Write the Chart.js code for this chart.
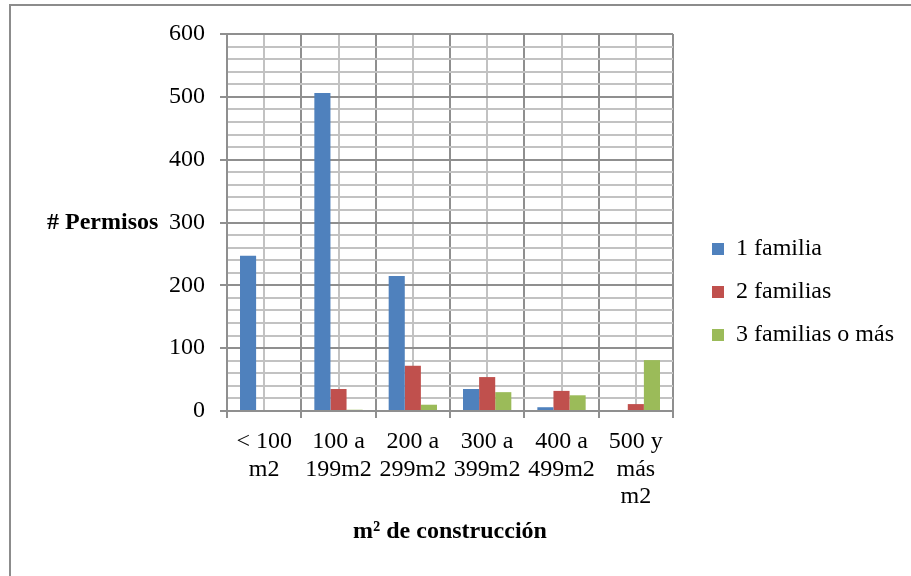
<!DOCTYPE html>
<html>
<head>
<meta charset="utf-8">
<script src="https://cdn.jsdelivr.net/npm/chart.js@4.4.1/dist/chart.umd.min.js"></script>
<style>
  html, body { margin: 0; padding: 0; background: #fff; overflow: hidden; }
  #frame { position: absolute; left: 9px; top: 4px; width: 1000px; height: 700px; border: 2px solid #8c8c8c; }
  #wrap { position: absolute; left: 0; top: 0; width: 911px; height: 576px; }
</style>
</head>
<body>
<div id="frame"></div>
<div id="wrap"><canvas id="chart" width="911" height="576"></canvas></div>
<script>
// categories and series
const categories = [['< 100', 'm2'], ['100 a', '199m2'], ['200 a', '299m2'], ['300 a', '399m2'], ['400 a', '499m2'], ['500 y', 'más', 'm2']];
const unaFamilia = [247, 506, 215, 35, 6, 0];
const dosFamilias = [0, 35, 72, 54, 32, 11];
const tresFamilias = [0, 2, 10, 30, 25, 81];

const serif = "'Liberation Serif', 'Times New Roman', serif";
const majorGrid = '#8f8f8f';
const minorGrid = '#c2c2c2';

// draws the horizontal "# Permisos" label left of the y axis
const yTitlePlugin = {
    id: 'yTitle',
    afterDraw(chart) {
        const ctx = chart.ctx;
        const y = chart.scales.y.getPixelForValue(300);
        ctx.save();
        ctx.font = 'bold 24px ' + serif;
        ctx.fillStyle = '#000';
        ctx.textAlign = 'left';
        ctx.textBaseline = 'middle';
        ctx.fillText('# Permisos', 47, y);
        ctx.restore();
    }
};

// legend box gets a fixed width so the plot stops short of it,
// then the items are nudged right / up to sit where the original has them
const legendWidth = 228;
const legendShiftX = 20;
const legendShiftY = -8;
const legendPlacePlugin = {
    id: 'legendPlace',
    beforeLayout(chart) {
        const legend = chart.legend;
        if (legend && !legend._fixedWidth) {
            const fit = legend.fit;
            legend.fit = function () {
                fit.call(this);
                this.width = legendWidth;
            };
            legend._fixedWidth = true;
        }
    },
    afterLayout(chart) {
        const legend = chart.legend;
        legend.left += legendShiftX;
        legend.right += legendShiftX;
        legend.top += legendShiftY;
        legend.bottom += legendShiftY;
    }
};

const ctx = document.getElementById('chart').getContext('2d');
const chart = new Chart(ctx, {
    type: 'bar',
    data: {
        labels: categories,
        datasets: [
            { label: '1 familia', data: unaFamilia, backgroundColor: '#4F81BD' },
            { label: '2 familias', data: dosFamilias, backgroundColor: '#C0504D' },
            { label: '3 familias o más', data: tresFamilias, backgroundColor: '#9BBB59' }
        ]
    },
    options: {
        responsive: false,
        animation: false,
        devicePixelRatio: 1,
        categoryPercentage: 0.65,
        barPercentage: 1.0,
        layout: { padding: { left: 10, right: 10, top: 34, bottom: 10 } },
        scales: {
            x: {
                grid: {
                    offset: true,
                    color: majorGrid,
                    lineWidth: 2,
                    tickLength: 7,
                    tickColor: majorGrid
                },
                border: { color: majorGrid, width: 2 },
                ticks: {
                    color: '#000',
                    font: { family: serif, size: 24, lineHeight: 1.15 },
                    padding: 10,
                    maxRotation: 0,
                    autoSkip: false
                },
                title: {
                    display: true,
                    text: 'm² de construcción',
                    color: '#000',
                    font: { family: serif, size: 24, weight: 'bold' },
                    padding: { top: 0, bottom: 20 }
                },
                afterFit: scale => { scale.height = 155; }
            },
            x2: {
                type: 'category',
                position: 'top',
                offset: true,
                grid: { offset: false, color: minorGrid, lineWidth: 2, drawTicks: false },
                border: { display: false },
                ticks: { display: false },
                afterFit: scale => { scale.height = 0; }
            },
            y: {
                min: 0,
                max: 600,
                grid: {
                    color: c => (c.tick && c.tick.value % 100 === 0) ? majorGrid : minorGrid,
                    lineWidth: 2,
                    tickLength: 7,
                    tickColor: c => (c.tick && c.tick.value % 100 === 0) ? majorGrid : 'rgba(0,0,0,0)'
                },
                border: { color: majorGrid, width: 2 },
                ticks: {
                    stepSize: 20,
                    maxTicksLimit: 40,
                    autoSkip: false,
                    color: '#000',
                    padding: 15,
                    font: { family: serif, size: 24 },
                    callback: v => (v % 100 === 0 ? v : '')
                },
                afterFit: scale => { scale.width = 217; }
            }
        },
        plugins: {
            legend: {
                position: 'right',
                labels: {
                    color: '#000',
                    boxWidth: 12,
                    boxHeight: 12,
                    padding: 19,
                    font: { family: serif, size: 24 }
                }
            },
            tooltip: { enabled: false }
        }
    },
    plugins: [yTitlePlugin, legendPlacePlugin]
});
</script>
</body>
</html>
